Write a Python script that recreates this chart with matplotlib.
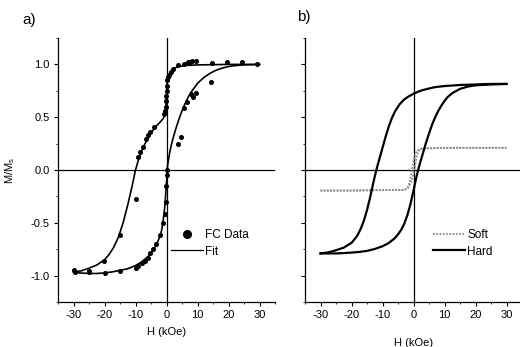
import matplotlib
matplotlib.use("Agg")
import matplotlib.pyplot as plt
from matplotlib.lines import Line2D
from matplotlib.ticker import MultipleLocator

plt.rcParams['font.family'] = ['Liberation Sans', 'DejaVu Sans']

# ---- panel a: FC data and fit ----
fit_dn_H = [30, 20, 10, 6, 4, 3, 2, 1.5, 1, 0.6, 0.3, 0.1, -0.1, -0.3, -0.6, -1, -2, -3, -4, -5,
            -6, -7, -8, -9, -10, -11, -12.5, -14, -15.5, -17, -18.5, -20, -22.5, -25, -27.5, -30]
fit_dn_M = [1.0, 1.0, 0.995, 0.99, 0.98, 0.97, 0.95, 0.935, 0.915, 0.89, 0.85, 0.78, 0.66, 0.57, 0.52,
            0.49, 0.455, 0.425, 0.39, 0.35, 0.30, 0.245, 0.18, 0.10, 0.0, -0.14, -0.33, -0.5, -0.635,
            -0.73, -0.8, -0.85, -0.9, -0.93, -0.955, -0.965]

fit_up_H = [-30, -28, -25, -22.5, -20, -17.5, -15, -12.5, -10, -8, -6, -5, -4, -3, -2, -1.5, -1, -0.6,
            -0.3, 0, 0.3, 0.6, 1, 1.5, 2, 3, 4, 5, 6, 7, 8, 10, 12, 14, 16, 18, 20, 22.5, 25, 30]
fit_up_M = [-0.965, -0.975, -0.98, -0.98, -0.975, -0.965, -0.95, -0.935, -0.905, -0.87, -0.82, -0.79,
            -0.745, -0.69, -0.62, -0.56, -0.46, -0.36, -0.25, -0.12, 0.03, 0.09, 0.16, 0.23, 0.29, 0.39,
            0.48, 0.56, 0.63, 0.69, 0.74, 0.82, 0.875, 0.915, 0.945, 0.965, 0.98, 0.99, 0.995, 1.0]

fc_H = [29.3, 24.2, 19.5, 14.6, 9.4, 8.3, 7.6, 7.0, 5.7, 3.6, 2.0, 1.5, 0.8, 0.5, 0.3, 0.1, 0.0, -0.1,
        -0.2, -0.3, -0.5, -0.8,
        -3.9, -5.2, -5.9, -6.6, -7.7, -8.6, -9.1,
        -10.0, -15.0, -20.3, -25.0, -29.8, -29.5,
        -25.0, -19.8, -15.0, -10.0, -9.2, -8.0, -7.0, -6.0, -5.3, -4.4, -3.4, -2.1, -1.2, -0.6, -0.3,
        -0.1, 0.1, 0.2,
        3.6, 4.7, 5.7, 6.7, 7.8, 8.7, 9.4, 14.5]
fc_M = [1.0, 1.02, 1.02, 1.01, 1.035, 1.03, 1.025, 1.02, 1.0, 0.995, 0.96, 0.93, 0.90, 0.88, 0.85, 0.80,
        0.75, 0.70, 0.65, 0.60, 0.56, 0.53,
        0.41, 0.36, 0.33, 0.29, 0.22, 0.17, 0.12,
        -0.27, -0.62, -0.86, -0.96, -0.95, -0.97,
        -0.965, -0.975, -0.955, -0.93, -0.91, -0.885, -0.86, -0.83, -0.79, -0.75, -0.70, -0.62, -0.5,
        -0.42, -0.3, -0.15, -0.05, 0.0,
        0.25, 0.31, 0.59, 0.64, 0.72, 0.69, 0.73, 0.83]

# ---- panel b: soft and hard loops ----
soft_dn_H = [30, 20, 10, 5, 3, 2, 1, 0.5, 0, -0.5, -1, -1.5, -2, -3, -5, -10, -20, -30]
soft_dn_M = [0.21, 0.21, 0.21, 0.205, 0.205, 0.2, 0.18, 0.14, 0.08, 0.0, -0.08, -0.14, -0.17, -0.185,
             -0.19, -0.19, -0.195, -0.195]
soft_up_H = [-30, -20, -10, -5, -3, -2, -1.5, -1, -0.5, 0, 0.5, 1, 1.5, 2, 3, 5, 10, 20, 30]
soft_up_M = [-0.195, -0.195, -0.19, -0.19, -0.19, -0.18, -0.16, -0.13, -0.09, -0.04, 0.04, 0.12, 0.17,
             0.195, 0.205, 0.205, 0.21, 0.21, 0.21]

hard_dn_H = [30, 25, 20, 15, 10, 7, 5, 3, 1.5, 0, -1.5, -3, -4.5, -6, -7, -8, -9, -10, -11, -12, -13,
             -14, -15, -16, -17, -18, -19, -20, -22.5, -25, -27.5, -30]
hard_dn_M = [0.815, 0.815, 0.81, 0.805, 0.795, 0.785, 0.772, 0.757, 0.742, 0.722, 0.698, 0.668, 0.622,
             0.553, 0.49, 0.41, 0.315, 0.21, 0.105, 0.0, -0.125, -0.26, -0.38, -0.48, -0.555, -0.615,
             -0.655, -0.69, -0.735, -0.76, -0.78, -0.79]
hard_up_H = [-30, -27.5, -25, -22.5, -20, -17.5, -15, -12.5, -10, -8, -6, -5, -4, -3, -2, -1, 0, 0.5,
             1, 1.5, 2, 3, 4, 5, 6, 7, 8, 9, 10, 11, 12.5, 15, 17.5, 20, 25, 30]
hard_up_M = [-0.79, -0.79, -0.79, -0.787, -0.782, -0.776, -0.766, -0.748, -0.722, -0.692, -0.645,
             -0.61, -0.568, -0.51, -0.43, -0.325, -0.195, -0.125, -0.06, 0.0, 0.055, 0.155, 0.255,
             0.345, 0.43, 0.5, 0.56, 0.61, 0.655, 0.69, 0.728, 0.768, 0.79, 0.802, 0.81, 0.815]

xticks = [-30, -20, -10, 0, 10, 20, 30]
xticklabels = ['-30', '-20', '-10', '0', '10', '20', '30']
yticks = [-1.0, -0.5, 0.0, 0.5, 1.0]
yticklabels = ['-1.0', '-0.5', '0.0', '0.5', '1.0']

fig = plt.figure(figsize=(5.2, 3.47), dpi=100)
ax1 = fig.add_axes([58 / 520, 45 / 347, 217 / 520, 264 / 347])
ax2 = fig.add_axes([305 / 520, 45 / 347, 217 / 520, 264 / 347])

for ax in (ax1, ax2):
    ax.set_xlim(-35, 35)
    ax.set_ylim(-1.25, 1.25)
    ax.axhline(0, color='black', lw=0.9, zorder=1)
    ax.axvline(0, color='black', lw=0.9, zorder=1)
    ax.spines['top'].set_visible(False)
    ax.spines['right'].set_visible(False)
    ax.spines['left'].set_linewidth(0.9)
    ax.spines['bottom'].set_linewidth(0.9)
    ax.set_xticks(xticks)
    ax.set_xticklabels(xticklabels)
    ax.set_yticks(yticks)
    ax.xaxis.set_minor_locator(MultipleLocator(5))
    ax.yaxis.set_minor_locator(MultipleLocator(0.25))
    ax.tick_params(which='major', direction='out', length=3, width=0.8, pad=3, labelsize=8)
    ax.tick_params(which='minor', direction='out', length=1.5, width=0.6)

ax1.set_yticklabels(yticklabels)
ax2.set_yticklabels([])

ax1.plot(fit_dn_H, fit_dn_M, color='black', lw=1.2, zorder=3)
ax1.plot(fit_up_H, fit_up_M, color='black', lw=1.2, zorder=3)
ax1.plot(fc_H, fc_M, 'o', color='black', ms=2.6, zorder=4)

ax1.set_xlabel('H (kOe)', fontsize=8, labelpad=5)
ax1.set_ylabel(r'M/M$_\mathregular{s}$', fontsize=8, labelpad=10)

h1 = [Line2D([], [], marker='o', color='black', ls='none', ms=5.5),
      Line2D([], [], color='black', lw=0.9)]
ax1.legend(h1, ['FC Data', 'Fit'], loc='upper left', bbox_to_anchor=(0.52, 0.275),
           frameon=False, fontsize=8.5, handlelength=2.7, handletextpad=0.2,
           labelspacing=0.35, borderpad=0, borderaxespad=0)

ax2.plot(soft_dn_H, soft_dn_M, color='#8c8c8c', lw=1.3, ls=(0, (1, 0.8)), zorder=3)
ax2.plot(soft_up_H, soft_up_M, color='#8c8c8c', lw=1.3, ls=(0, (1, 0.8)), zorder=3)
ax2.plot(hard_dn_H, hard_dn_M, color='black', lw=1.6, zorder=3)
ax2.plot(hard_up_H, hard_up_M, color='black', lw=1.6, zorder=3)

ax2.set_xlabel('H (kOe)', fontsize=8, labelpad=13)

h2 = [Line2D([], [], color='#8c8c8c', lw=1.3, ls=(0, (1, 0.8))),
      Line2D([], [], color='black', lw=1.6)]
ax2.legend(h2, ['Soft', 'Hard'], loc='upper left', bbox_to_anchor=(0.59, 0.275),
           frameon=False, fontsize=8.5, handlelength=2.7, handletextpad=0.2,
           labelspacing=0.35, borderpad=0, borderaxespad=0)

fig.text(22 / 520, 1 - 20 / 347, 'a)', fontsize=11, va='center', ha='left')
fig.text(297 / 520, 1 - 17 / 347, 'b)', fontsize=11, va='center', ha='left')

fig.savefig('out.png', dpi=100)
